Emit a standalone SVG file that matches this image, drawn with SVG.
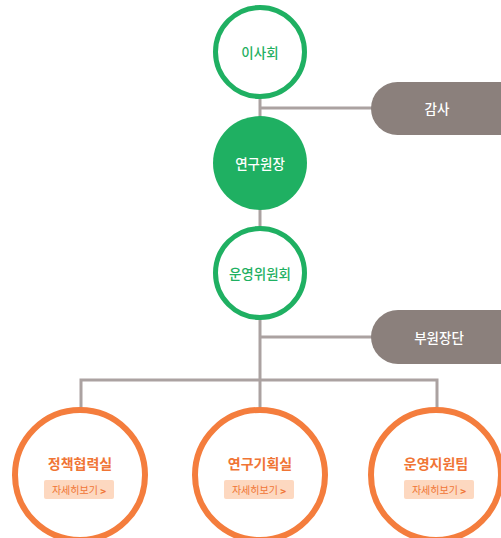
<svg xmlns="http://www.w3.org/2000/svg" width="501" height="538" viewBox="0 0 501 538">
<style>
.ln{stroke:#aba2a1;stroke-width:3;fill:none}
.gc{fill:#fff;stroke:#1fb062;stroke-width:5}
.oc{fill:#fff;stroke:#f47d3d;stroke-width:6}
.pill{fill:#8b807c}
.t{font-family:"Noto Sans CJK KR","Noto Sans",sans-serif;text-anchor:middle;dominant-baseline:central}
.tg{fill:#1fb062;font-size:13.5px;font-weight:500}
.tw{fill:#fff;font-size:13.5px;font-weight:500}
.to{fill:#f07535;font-size:14px;font-weight:700}
.btn{fill:#fdd8c0}
.tb{fill:#f07535;font-size:10px}
.chev{font-weight:700}
</style>
<g id="connectors">
<line class="ln" x1="260" y1="98" x2="260" y2="118"/>
<line class="ln" x1="260" y1="108" x2="380" y2="108"/>
<line class="ln" x1="260" y1="208" x2="260" y2="228"/>
<line class="ln" x1="260" y1="318" x2="260" y2="407"/>
<line class="ln" x1="260" y1="337" x2="380" y2="337"/>
<polyline class="ln" points="81,408 81,380 437,380 437,408"/>
</g>
<g id="board"><circle class="gc" cx="260" cy="52" r="44.5"/><text class="t tg" x="260" y="52">이사회</text></g>
<g id="audit"><rect class="pill" x="371" y="82" width="160" height="53" rx="26.5"/><text class="t tw" x="437" y="108">감사</text></g>
<g id="director"><circle cx="260" cy="163" r="47" fill="#1fb062"/><text class="t tw" x="260" y="163">연구원장</text></g>
<g id="committee"><circle class="gc" cx="260" cy="273" r="44.5"/><text class="t tg" x="260" y="273">운영위원회</text></g>
<g id="vice"><rect class="pill" x="371" y="310" width="160" height="54" rx="27"/><text class="t tw" x="439" y="337">부원장단</text></g>
<g id="policy"><circle class="oc" cx="80" cy="475" r="65"/><text class="t to" x="80" y="463">정책협력실</text><rect class="btn" x="44" y="480" width="70" height="19" rx="2"/><text class="t tb" x="79" y="489.5">자세히보기 <tspan class="chev">&gt;</tspan></text></g>
<g id="planning"><circle class="oc" cx="260" cy="475" r="65"/><text class="t to" x="260" y="463">연구기획실</text><rect class="btn" x="224" y="480" width="70" height="19" rx="2"/><text class="t tb" x="259" y="489.5">자세히보기 <tspan class="chev">&gt;</tspan></text></g>
<g id="support"><circle class="oc" cx="436" cy="475" r="65"/><text class="t to" x="436" y="463">운영지원팀</text><rect class="btn" x="404" y="480" width="70" height="19" rx="2"/><text class="t tb" x="439" y="489.5">자세히보기 <tspan class="chev">&gt;</tspan></text></g>
</svg>
